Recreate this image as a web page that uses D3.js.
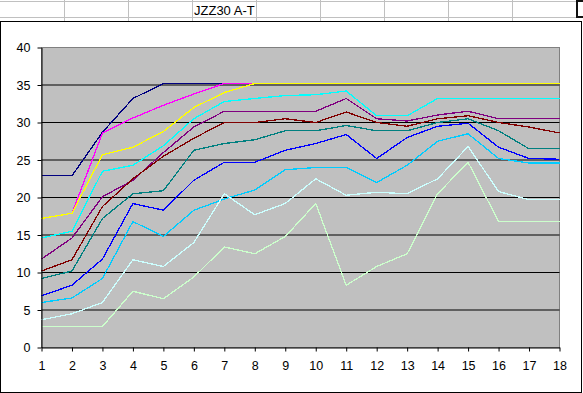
<!DOCTYPE html>
<html>
<head>
<meta charset="utf-8">
<script src="https://cdn.jsdelivr.net/npm/d3@7"></script>
<style>
  body { margin: 0; background: #fff; }
  svg { display: block; font-family: Arial, "Liberation Sans", sans-serif; }
</style>
</head>
<body>
<svg width="583" height="393"></svg>
<script>
// chart data
const categories = [1, 2, 3, 4, 5, 6, 7, 8, 9, 10, 11, 12, 13, 14, 15, 16, 17, 18];
const yTicks = [0, 5, 10, 15, 20, 25, 30, 35, 40];
const sheetTitle = 'JZZ30 A-T';

const navy      = [22.9, 22.9, 28.7, 33.2, 35.2, 35.2, 35.2, 35.2, 35.2, 35.2, 35.2, 35.2, 35.2, 35.2, 35.2, 35.2, 35.2, 35.2];
const magenta   = [17.2, 17.9, 28.6, 30.6, 32.3, 33.8, 35.2, 35.2, 35.2, 35.2, 35.2, 35.2, 35.2, 35.2, 35.2, 35.2, 35.2, 35.2];
const yellow    = [17.2, 17.9, 25.7, 26.7, 28.8, 32.0, 34.0, 35.2, 35.2, 35.2, 35.2, 35.2, 35.2, 35.2, 35.2, 35.2, 35.2, 35.2];
const cyan      = [14.6, 15.5, 23.5, 24.3, 26.9, 30.5, 32.8, 33.2, 33.6, 33.7, 34.2, 30.9, 30.9, 33.2, 33.2, 33.2, 33.2, 33.2];
const purple    = [11.8, 14.6, 20.1, 22.3, 26.0, 29.4, 31.5, 31.5, 31.5, 31.5, 33.2, 30.5, 30.2, 31.0, 31.5, 30.5, 30.5, 30.5];
const maroon    = [10.2, 11.7, 18.8, 22.5, 25.5, 27.9, 30.0, 30.0, 30.5, 30.0, 31.4, 30.0, 29.5, 30.5, 30.9, 30.0, 29.4, 28.6];
const teal      = [9.2, 10.2, 17.2, 20.5, 20.9, 26.3, 27.2, 27.7, 28.9, 28.9, 29.6, 28.9, 28.9, 30.0, 30.5, 28.9, 26.5, 26.5];
const blue      = [6.9, 8.3, 11.8, 19.2, 18.3, 22.3, 24.7, 24.7, 26.3, 27.2, 28.4, 25.2, 28.0, 29.5, 29.9, 26.7, 25.2, 25.1];
const skyBlue   = [6.0, 6.6, 9.2, 16.8, 14.8, 18.3, 19.8, 21.0, 23.7, 24.0, 24.0, 22.0, 24.3, 27.5, 28.5, 25.2, 24.6, 24.6];
const paleCyan  = [3.7, 4.5, 6.0, 11.7, 10.8, 14.0, 20.5, 17.7, 19.2, 22.5, 20.3, 20.7, 20.5, 22.5, 26.8, 20.8, 19.7, 19.7];
const paleGreen = [2.8, 2.8, 2.8, 7.5, 6.5, 9.4, 13.4, 12.5, 14.8, 19.2, 8.3, 10.8, 12.5, 20.5, 24.7, 16.8, 16.8, 16.8];

const seriesList = [navy, magenta, yellow, cyan, purple, maroon, teal, blue, skyBlue, paleCyan, paleGreen];
const seriesColors = ['#000080', '#ff00ff', '#ffff00', '#00ffff', '#800080', '#800000',
                      '#008080', '#0000ff', '#00ccff', '#ccffff', '#ccffcc'];

const svg = d3.select('svg');

/////////////////////////////
// SHEET BEHIND THE CHART
/////////////////////////////
const sheet = svg.append('g').attr('class', 'sheet');
[1.5, 17.5].forEach(yy => {
    sheet.append('line')
        .attr('x1', 0).attr('x2', 576).attr('y1', yy).attr('y2', yy)
        .attr('stroke', '#c0c0c0');
});
d3.range(64.5, 576, 64).forEach(xx => {
    sheet.append('line')
        .attr('x1', xx).attr('x2', xx).attr('y1', 0).attr('y2', 21)
        .attr('stroke', '#c0c0c0');
});
sheet.append('text')
    .attr('x', 194).attr('y', 15)
    .attr('font-size', 13)
    .text(sheetTitle);
sheet.append('path')
    .attr('d', 'M583,1H577V17H583')
    .attr('fill', 'none')
    .attr('stroke', '#111')
    .attr('stroke-width', 2);

/////////////////////////////
// CHART AREA
/////////////////////////////
svg.append('rect')
    .attr('x', 0.5).attr('y', 21.5)
    .attr('width', 581).attr('height', 371)
    .attr('fill', '#fff')
    .attr('stroke', '#000');

const x = d3.scaleLinear()
    .domain([1, 18])
    .range([41.5, 559.5]);

const y = d3.scaleLinear()
    .domain([0, 40])
    .range([347.5, 47.5]);

svg.append('rect')
    .attr('x', x(1)).attr('y', y(40))
    .attr('width', x(18) - x(1)).attr('height', y(0) - y(40))
    .attr('fill', '#c0c0c0')
    .attr('stroke', '#808080');

svg.append('g')
    .attr('class', 'grid')
    .selectAll('line')
    .data(yTicks.filter(t => t > 0 && t < 40))
    .enter()
    .append('line')
        .attr('x1', x(1)).attr('x2', x(18))
        .attr('y1', d => y(d)).attr('y2', d => y(d))
        .attr('stroke', '#000');

/////////////////////////////
// SERIES
/////////////////////////////
const line = d3.line()
    .x((d, i) => x(categories[i]))
    .y(d => y(d));

svg.append('g')
    .attr('class', 'series')
    .selectAll('path')
    .data(seriesList)
    .enter()
    .append('path')
        .attr('d', line)
        .attr('fill', 'none')
        .attr('stroke', (d, i) => seriesColors[i])
        .attr('stroke-width', 1.3)
        .attr('shape-rendering', 'crispEdges');

/////////////////////////////
// AXES
/////////////////////////////
const yAxis = svg.append('g')
    .attr('transform', `translate(${x(1)},0)`)
    .call(d3.axisLeft(y).tickValues(yTicks).tickSize(4).tickPadding(7).tickSizeOuter(0));

const xAxis = svg.append('g')
    .attr('transform', `translate(0,${y(0)})`)
    .call(d3.axisBottom(x).tickValues(categories).tickFormat(d3.format('d'))
        .tickSize(4).tickPadding(10).tickSizeOuter(0));

[yAxis, xAxis].forEach(a => {
    a.selectAll('path, line').attr('stroke', '#000');
    a.selectAll('text')
        .attr('fill', '#000')
        .attr('font-size', 12.5)
        .attr('font-family', 'Arial, "Liberation Sans", sans-serif');
});
</script>
</body>
</html>
